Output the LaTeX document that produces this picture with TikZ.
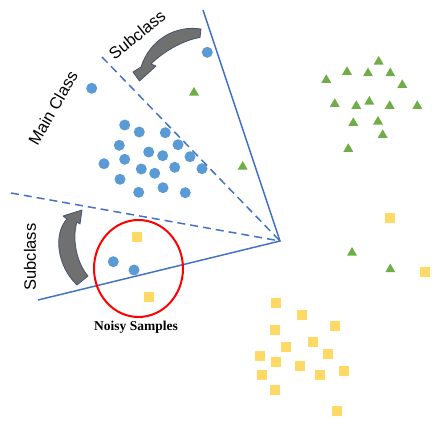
\documentclass[tikz,border=0pt]{standalone}
\usepackage{fontspec}
\setmainfont{Liberation Serif}
\setsansfont{Liberation Sans}
\usetikzlibrary{shapes.geometric}
\definecolor{DotColor}{HTML}{5B9BD5}
\definecolor{TriColor}{HTML}{70AD47}
\definecolor{SqColor}{HTML}{FFD966}
\definecolor{LineColor}{HTML}{4472C4}
\definecolor{ArrowFill}{HTML}{707070}
\definecolor{ArrowEdge}{HTML}{44546A}
\definecolor{NoisyColor}{HTML}{FF0000}

\tikzset{
  blueDot/.style={circle, fill=DotColor, inner sep=0pt, minimum size=11pt},
  greenTri/.style={regular polygon, regular polygon sides=3, fill=TriColor, inner sep=0pt, minimum size=11.5pt},
  yellowSq/.style={rectangle, fill=SqColor, inner sep=0pt, minimum size=10pt},
  border/.style={LineColor, line width=1.5pt},
  borderDash/.style={LineColor, line width=1.5pt, dash pattern=on 8pt off 5pt},
  bendArrow/.style={fill=ArrowFill, draw=ArrowEdge, line width=0.8pt, line join=round},
  tag/.style={font=\sffamily\fontsize{16.5}{19}\selectfont}
}

\begin{document}
\begin{tikzpicture}[x=1pt, y=-1pt]
  \useasboundingbox (0,0) rectangle (436,423);

  % class borders
  \coordinate (apex) at (280,241);
  \coordinate (topEnd) at (203,10);
  \coordinate (lowEnd) at (38,300);
  \coordinate (dashTop) at (102,57);
  \coordinate (dashLow) at (11,193);
  \draw[border] (topEnd) -- (apex) -- (lowEnd);
  \draw[borderDash] (dashTop) -- (apex);
  \draw[borderDash] (dashLow) -- (apex);

  % main class samples
  \foreach \x/\y [count=\i] in {124.7/125, 139.3/132, 165.3/132.7, 119.3/145.3, 178/144.7,
      148.7/152, 162.7/155.7, 124.7/159.3, 190/156.7, 104/163.7, 141.3/169, 154.7/173.3,
      174.7/167.3, 202/168.7, 120/179.3, 138.7/192.3, 163/187.7, 185.3/192.7,
      91.7/88.3, 207.3/52.3, 113.3/261.7, 134/270}
    \node[blueDot] (c\i) at (\x,\y) {};

  % second class samples
  \foreach \x/\y [count=\i] in {378.7/61.7, 347/72, 368/73.3, 390.3/73.3, 326.3/80, 402.3/85,
      334.7/104, 356.3/106, 369.3/101.7, 389.7/106, 417.3/106, 353.3/123, 378/121.7,
      382.7/135, 348.3/149, 242.7/166.7, 194/92.7, 352/252.7, 390.3/269.3}
    \node[greenTri] (t\i) at (\x,\y) {};

  % third class samples
  \foreach \x/\y [count=\i] in {276/303.3, 301.7/315, 275.3/329.7, 335.3/326, 286.3/347.3,
      312.7/341.7, 259.7/355.7, 276/361.7, 328/354.3, 300/366, 261.7/375, 320/375.3,
      344/371.3, 275.3/390.3, 336.7/410.7, 390/217.7, 425/271.7, 136.7/236.7, 149.3/296.7}
    \node[yellowSq] (s\i) at (\x,\y) {};

  % noisy region
  \node[ellipse, draw=NoisyColor, line width=2pt, minimum width=89pt, minimum height=97pt] (noisy) at (138.5,268.5) {};
  \node[font=\bfseries\fontsize{13.5}{16}\selectfont] (noisyLabel) at (136,327) {Noisy Samples};

  % bent arrows
  \filldraw[bendArrow] (201,29) .. controls (176,25) and (150,39) .. (141,67) -- (133,72) -- (139.5,81)
    -- (156,66) -- (151,64) .. controls (164,51) and (184,40) .. (200,37.5) -- cycle;
  \filldraw[bendArrow] (77,285) .. controls (57,266) and (53,234) .. (67,219) -- (63,216) -- (82,210)
    -- (80,224) -- (77,222) .. controls (72,238) and (76,262) .. (88,276) -- cycle;

  % labels
  \node[tag, rotate=60] (mainTag) at (53,108) {Main Class};
  \node[tag, rotate=39] (subTagTop) at (137,35) {Subclass};
  \node[tag, rotate=90] (subTagLeft) at (30,257) {Subclass};
\end{tikzpicture}
\end{document}
